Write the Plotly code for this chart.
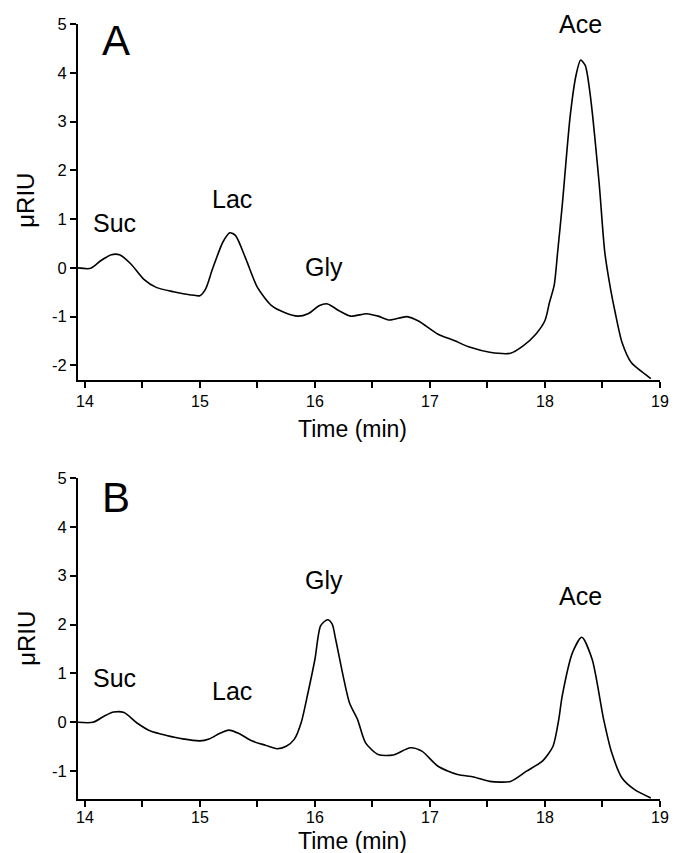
import plotly.graph_objects as go

# ---------------- Data ----------------
time_a = [13.94, 14.05, 14.14, 14.23, 14.30, 14.40, 14.51, 14.62, 14.77, 14.91, 15.00,
          15.05, 15.11, 15.20, 15.26, 15.31, 15.40, 15.50, 15.62, 15.74, 15.85, 15.94,
          16.04, 16.11, 16.21, 16.31, 16.45, 16.55, 16.65, 16.80, 16.90, 17.07, 17.21,
          17.35, 17.52, 17.70, 17.81, 17.92, 18.00, 18.04, 18.08, 18.11, 18.15, 18.22,
          18.27, 18.31, 18.35, 18.39, 18.47, 18.52, 18.57, 18.61, 18.67, 18.75, 18.87, 18.92]
riu_a = [0.00, -0.01, 0.15, 0.27, 0.27, 0.08, -0.23, -0.40, -0.49, -0.55, -0.57,
         -0.43, -0.02, 0.53, 0.72, 0.66, 0.18, -0.40, -0.77, -0.92, -0.99, -0.94,
         -0.77, -0.74, -0.88, -0.99, -0.94, -0.99, -1.07, -1.00, -1.09, -1.36, -1.49,
         -1.63, -1.73, -1.75, -1.60, -1.36, -1.08, -0.70, -0.36, 0.32, 1.28, 3.13,
         3.95, 4.26, 4.15, 3.61, 1.76, 0.32, -0.43, -0.91, -1.53, -1.94, -2.18, -2.27]

time_b = [13.94, 14.07, 14.17, 14.25, 14.34, 14.45, 14.57, 14.71, 14.85, 15.00, 15.08,
          15.17, 15.25, 15.34, 15.45, 15.57, 15.67, 15.75, 15.82, 15.88, 15.94, 16.00,
          16.05, 16.11, 16.15, 16.18, 16.30, 16.37, 16.44, 16.55, 16.68, 16.83, 16.93,
          17.07, 17.24, 17.38, 17.52, 17.70, 17.84, 17.98, 18.07, 18.12, 18.15, 18.24,
          18.32, 18.41, 18.51, 18.58, 18.67, 18.78, 18.92]
riu_b = [0.00, 0.00, 0.13, 0.21, 0.20, -0.01, -0.18, -0.27, -0.34, -0.38, -0.34,
         -0.23, -0.16, -0.23, -0.38, -0.47, -0.54, -0.49, -0.35, -0.01, 0.61, 1.29,
         1.98, 2.10, 2.01, 1.70, 0.40, 0.06, -0.42, -0.66, -0.67, -0.52, -0.59,
         -0.90, -1.07, -1.12, -1.21, -1.21, -1.00, -0.79, -0.49, 0.06, 0.54, 1.43,
         1.74, 1.29, 0.06, -0.62, -1.14, -1.38, -1.55]

peak_names = ["Suc", "Lac", "Gly", "Ace"]
peak_x = [14.26, 15.28, 16.08, 18.31]
label_y_a = [0.92, 1.42, 0.02, 4.99]
label_y_b = [0.90, 0.64, 2.92, 2.59]

x_ticks = [14, 15, 16, 17, 18, 19]
y_ticks_a = [-2, -1, 0, 1, 2, 3, 4, 5]
y_ticks_b = [-1, 0, 1, 2, 3, 4, 5]

FONT = "Liberation Sans, Arial, sans-serif"

fig = go.Figure()
fig.add_trace(go.Scatter(x=time_a, y=riu_a, mode="lines", xaxis="x", yaxis="y",
                         line=dict(color="black", width=1.6, shape="spline", smoothing=0.7),
                         showlegend=False, hoverinfo="skip"))
fig.add_trace(go.Scatter(x=time_b, y=riu_b, mode="lines", xaxis="x2", yaxis="y2",
                         line=dict(color="black", width=1.6, shape="spline", smoothing=0.7),
                         showlegend=False, hoverinfo="skip"))

xcommon = dict(range=[13.94, 19.0], tickvals=x_ticks, ticktext=[str(v) for v in x_ticks],
               ticks="outside", ticklen=6,
               tickwidth=1.5, tickcolor="black", showline=True, linecolor="black",
               linewidth=2, showgrid=False, zeroline=False,
               tickfont=dict(family=FONT, size=16, color="black"),
               minor=dict(dtick=0.5, tick0=14, ticks="outside", ticklen=6,
                          tickwidth=1.5, tickcolor="black", showgrid=False))
ycommon = dict(ticks="outside", ticklen=6, tickwidth=1.5, tickcolor="black",
               showline=True, linecolor="black", linewidth=2, showgrid=False,
               zeroline=False, tickfont=dict(family=FONT, size=16.5, color="black"))

fig.update_layout(
    width=679, height=853,
    margin=dict(l=78, r=10, t=24, b=54),
    paper_bgcolor="white", plot_bgcolor="white",
    xaxis=dict(**xcommon, domain=[0, 1], anchor="y"),
    yaxis=dict(**ycommon, range=[-2.3, 5], tickvals=y_ticks_a,
               ticktext=[str(v) for v in y_ticks_a], domain=[0.5406, 1.0], anchor="x"),
    xaxis2=dict(**xcommon, domain=[0, 1], anchor="y2", ticklabelstandoff=-3),
    yaxis2=dict(**ycommon, range=[-1.57, 5], tickvals=y_ticks_b,
                ticktext=[str(v) for v in y_ticks_b], domain=[0.0, 0.4142], anchor="x2"),
)

ann = []
for name, px, ya, yb in zip(peak_names, peak_x, label_y_a, label_y_b):
    ann.append(dict(x=px, y=ya, xref="x", yref="y", text=name, showarrow=False,
                    font=dict(family=FONT, size=25, color="black"),
                    xanchor="center", yanchor="middle"))
    ann.append(dict(x=px, y=yb, xref="x2", yref="y2", text=name, showarrow=False,
                    font=dict(family=FONT, size=25, color="black"),
                    xanchor="center", yanchor="middle"))

ann.append(dict(x=14.27, y=4.66, xref="x", yref="y", text="A", showarrow=False,
                font=dict(family=FONT, size=42, color="black"), xanchor="center", yanchor="middle"))
ann.append(dict(x=14.27, y=4.6, xref="x2", yref="y2", text="B", showarrow=False,
                font=dict(family=FONT, size=42, color="black"), xanchor="center", yanchor="middle"))

for yp in [0.478, -0.0540]:
    ann.append(dict(x=0.472, y=yp, xref="paper", yref="paper", text="Time (min)",
                    showarrow=False, borderpad=0, font=dict(family=FONT, size=23, color="black"),
                    xanchor="center", yanchor="middle"))
for yp in [0.773, 0.2077]:
    ann.append(dict(x=-0.0897, y=yp, xref="paper", yref="paper", text="μRIU",
                    showarrow=False, textangle=-90,
                    font=dict(family=FONT, size=24, color="black"),
                    xanchor="center", yanchor="middle"))

fig.update_layout(annotations=ann)
fig.write_html("out.html", config={"displayModeBar": False},
               post_script="document.body.style.margin='0px';document.body.style.overflow='hidden';")
